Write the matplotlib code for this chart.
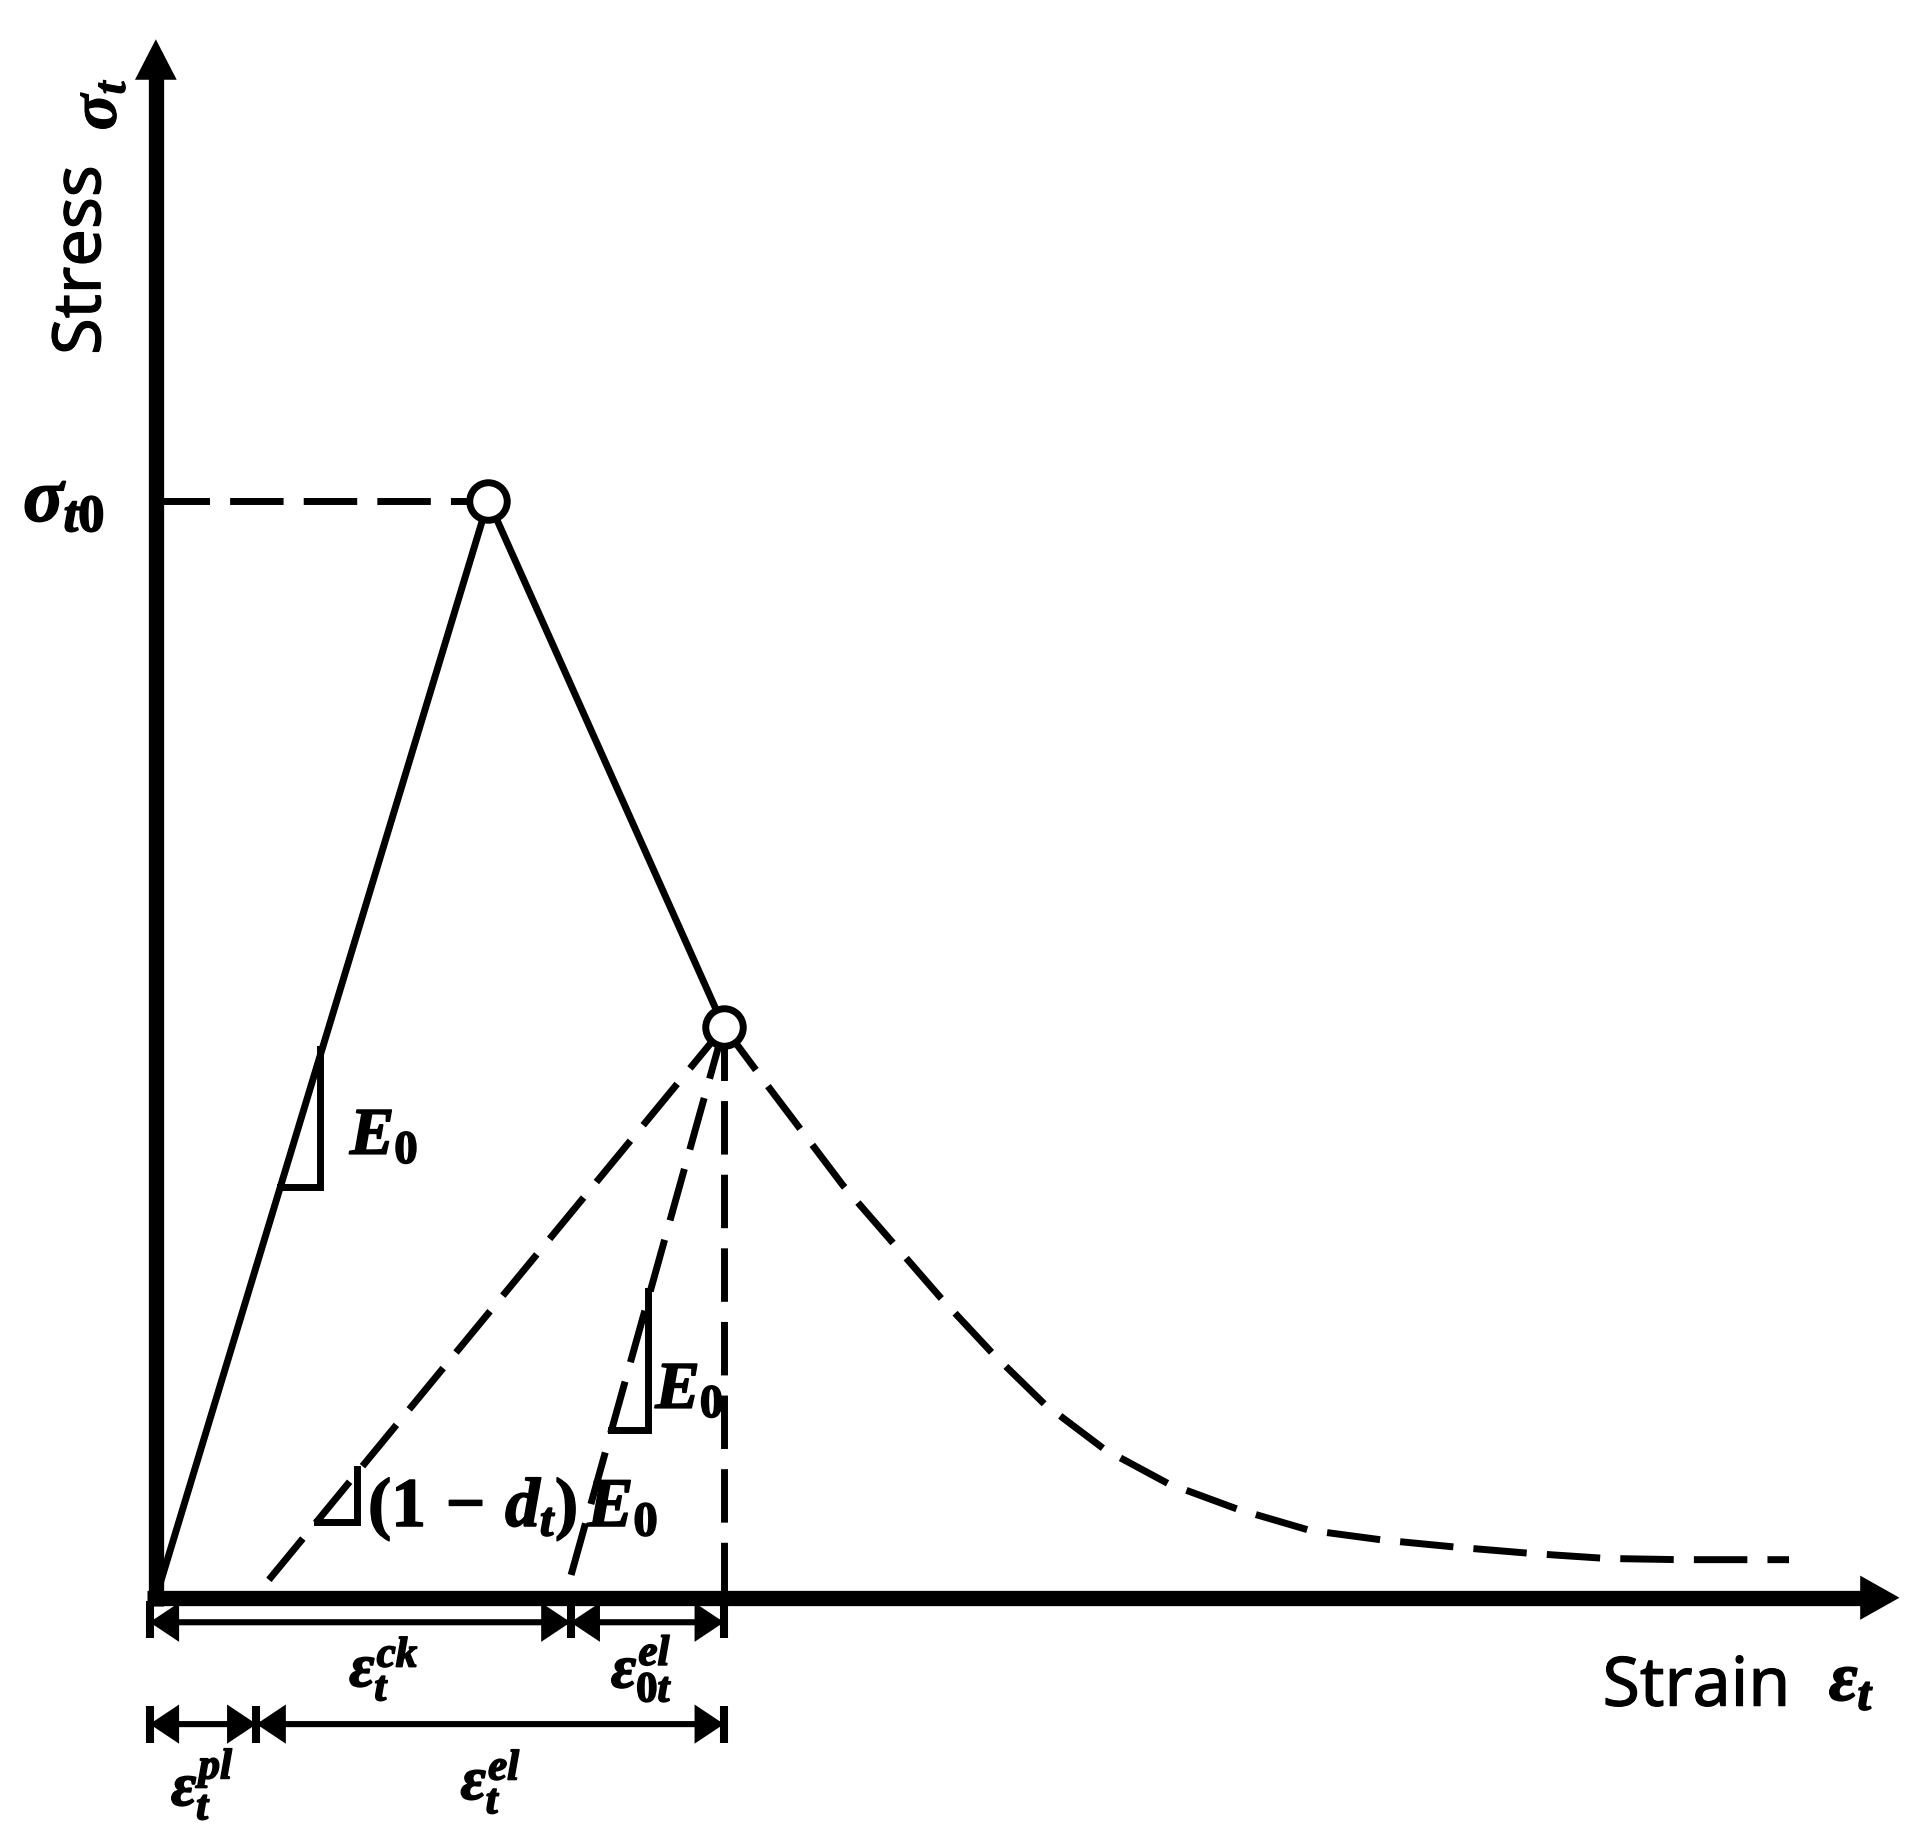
import matplotlib
matplotlib.use("Agg")
import matplotlib.pyplot as plt
import matplotlib.patheffects as pe
from matplotlib.patches import FancyArrowPatch

# math labels are heavy bold italic in the original
plt.rcParams.update({
    "mathtext.fontset": "custom",
    "mathtext.rm": "Liberation Serif:bold",
    "mathtext.it": "Liberation Serif:italic:bold",
    "mathtext.bf": "Liberation Serif:bold",
})

# Data (strain / stress, arbitrary units)
STRAIN_MAX = 1421
STRESS_MAX = 1270

peak = (271, 894)
damage = (463, 465)
loading_x = [0, peak[0], damage[0]]
loading_y = [0, peak[1], damage[1]]

softening_x = [463, 498, 560, 600, 640, 682, 724, 773, 825, 882, 940, 1000, 1062, 1122, 1182, 1242, 1302, 1331]
softening_y = [465, 418, 336, 290, 244, 199, 158, 121, 93, 72, 55, 47, 41, 36, 32, 31, 31, 31]

unload_plastic_x = [damage[0], 90]
unload_plastic_y = [damage[1], 12]
unload_elastic_x = [damage[0], 338]
unload_elastic_y = [damage[1], 17]

slope1_x = [134, 134, 101]
slope1_y = [447, 335, 335]
slope2_x = [401, 401, 371]
slope2_y = [250, 137, 137]
slope3_x = [164, 164, 131]
slope3_y = [105, 62, 62]

# dimension lines below the axis: (start, end) pairs
dim_upper = [(-5, 338), (338, 463)]
dim_lower = [(-5, 82), (82, 463)]
dim_upper_y = -20
dim_lower_y = -103

fig = plt.figure(figsize=(19.24, 18.37), dpi=100)
ax = fig.add_axes([0, 0, 1, 1])
ax.set_xlim(-127, 1441)
ax.set_ylim(-195, 1302)
ax.axis("off")

BLACK = "black"
DASH = (7.7, 2.9)
HEAVY = [pe.withStroke(linewidth=1.2, foreground=BLACK)]
MEDIUM = [pe.withStroke(linewidth=0.8, foreground=BLACK)]


def dim_arrow(x0, x1, y):
    ax.add_patch(FancyArrowPatch((x0, y), (x1, y), arrowstyle="<|-|>,head_length=1.5,head_width=1.0",
                                 mutation_scale=10, lw=4.4, color=BLACK, shrinkA=0, shrinkB=0,
                                 joinstyle="miter", zorder=3))


# main axes
ax.plot([-7, 1392], [0, 0], color=BLACK, lw=11, solid_capstyle="butt", zorder=2)
ax.plot([0, 0], [-7, 1240], color=BLACK, lw=11, solid_capstyle="butt", zorder=2)
ax.fill([1389, STRAIN_MAX, 1389], [18, 0, -18], color=BLACK, lw=0, zorder=2)
ax.fill([-17, 0, 17], [1237, STRESS_MAX, 1237], color=BLACK, lw=0, zorder=2)

# solid loading branch
ax.plot(loading_x, loading_y, color=BLACK, lw=5, solid_joinstyle="miter", zorder=3)

# dashed lines, all start at the marker so the dash phase matches
ax.plot([0, peak[0]], [peak[1], peak[1]], color=BLACK, lw=5, dashes=DASH, zorder=3)
ax.plot(softening_x, softening_y, color=BLACK, lw=5, dashes=DASH, zorder=3)
ax.plot(unload_plastic_x, unload_plastic_y, color=BLACK, lw=5, dashes=DASH, zorder=3)
ax.plot(unload_elastic_x, unload_elastic_y, color=BLACK, lw=5, dashes=DASH, zorder=3)
ax.plot([damage[0], damage[0]], [damage[1], 0], color=BLACK, lw=5, dashes=DASH, zorder=3)

# slope triangles
for sx, sy in [(slope1_x, slope1_y), (slope2_x, slope2_y), (slope3_x, slope3_y)]:
    ax.plot(sx, sy, color=BLACK, lw=5, solid_joinstyle="miter", zorder=3)

# open circles
ax.plot([peak[0], damage[0]], [peak[1], damage[1]], "o", ms=27, mfc="white", mec=BLACK, mew=5, zorder=4)

# dimension lines
for x0, x1 in dim_upper:
    dim_arrow(x0, x1, dim_upper_y)
for x0, x1 in dim_lower:
    dim_arrow(x0, x1, dim_lower_y)
for x in [-5, 338, 463]:
    ax.plot([x, x], [-33, -3], color=BLACK, lw=5.8, solid_capstyle="butt", zorder=3)
for x in [-5, 82, 463]:
    ax.plot([x, x], [-118, -88], color=BLACK, lw=5.8, solid_capstyle="butt", zorder=3)

# labels
ax.text(-60, 1090, "Stress", rotation=90, fontsize=48, family="Noto Sans", ha="center", va="center", path_effects=MEDIUM)
ax.text(-48, 1217, r"$\sigma_t$", rotation=90, fontsize=48, ha="center", va="center", path_effects=MEDIUM)
ax.text(-75, 894, r"$\sigma_{t0}$", fontsize=54, ha="center", va="center", path_effects=HEAVY)
ax.text(1179, -88, "Strain", fontsize=49, family="Noto Sans", ha="left", va="baseline", path_effects=MEDIUM)
ax.text(1382, -68, r"$\varepsilon_t$", fontsize=50, ha="center", va="center", path_effects=HEAVY)
ax.text(186, 377, r"$E_0$", fontsize=48, ha="center", va="center", path_effects=HEAVY)
ax.text(435, 170, r"$E_0$", fontsize=48, ha="center", va="center", path_effects=HEAVY)
ax.text(173, 72, r"$(1\,-\,d_t)\,E_0$", fontsize=50, ha="left", va="center", path_effects=HEAVY)
ax.text(186, -58, r"$\varepsilon_t^{ck}$", fontsize=44, ha="center", va="center", path_effects=HEAVY)
ax.text(396, -58, r"$\varepsilon_{0t}^{el}$", fontsize=44, ha="center", va="center", path_effects=HEAVY)
ax.text(38, -152, r"$\varepsilon_t^{pl}$", fontsize=44, ha="center", va="center", path_effects=HEAVY)
ax.text(273, -150, r"$\varepsilon_t^{el}$", fontsize=44, ha="center", va="center", path_effects=HEAVY)

fig.savefig("out.png", dpi=100)
